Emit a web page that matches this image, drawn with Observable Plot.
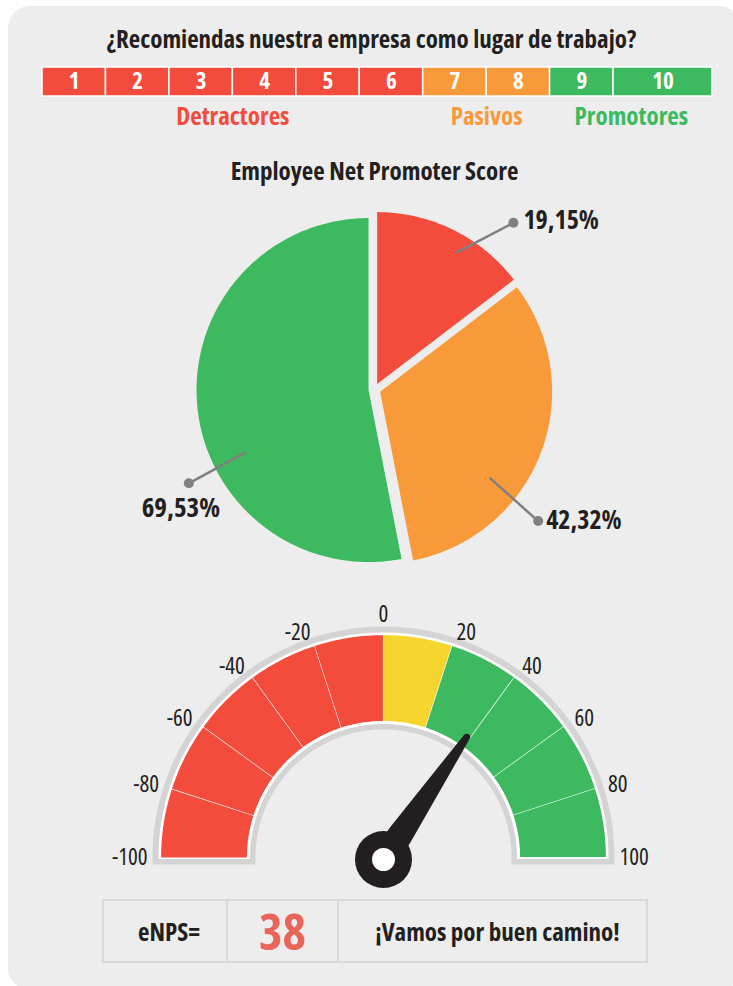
<!DOCTYPE html>
<html><head><meta charset="utf-8">
<script src="https://cdn.jsdelivr.net/npm/d3@7"></script>
<script src="https://cdn.jsdelivr.net/npm/@observablehq/plot@0.6"></script>
<style>
html,body{margin:0;padding:0;background:#fff;}
body{width:733px;height:986px;overflow:hidden;position:relative;font-family:"Open Sans",sans-serif;font-stretch:75%;color:#231F20;}
#panel{position:absolute;left:8px;top:6px;width:733px;height:984px;background:#EDEDED;border-radius:22px;}
.abs{position:absolute;}
.htext{position:absolute;left:0;width:733px;text-align:center;font-weight:bold;line-height:32px;}
#box{position:absolute;left:102px;top:899px;width:542px;height:60px;border:2px solid #D9D9D9;display:flex;}
#box div{display:flex;align-items:center;justify-content:center;font-weight:bold;box-sizing:border-box;}
svg text{font-stretch:75%;}
</style></head><body>
<div id="panel"></div>
<div id="title" class="htext" style="top:22px;font-size:25px;left:5px;">¿Recomiendas nuestra empresa como lugar de trabajo?</div>
<div id="scale" class="abs" style="left:0;top:60px;"></div>
<div id="sub" class="htext" style="top:154px;font-size:25px;left:8px;">Employee Net Promoter Score</div>
<div id="pie" class="abs" style="left:0;top:190px;"></div>
<div id="gauge" class="abs" style="left:0;top:590px;"></div>
<div id="box">
  <div id="c1" style="width:124px;border-right:2px solid #D9D9D9;font-size:25px;padding-left:8px;"></div>
  <div id="c2" style="width:111px;border-right:2px solid #D9D9D9;font-size:50px;color:#E9655A;"></div>
  <div id="c3" style="flex:1;font-size:25px;padding-left:10px;"></div>
</div>
<script>
// ---------- data ----------
const scores = [1, 2, 3, 4, 5, 6, 7, 8, 9, 10];
const scoreGroup = ["Detractores","Detractores","Detractores","Detractores","Detractores","Detractores","Pasivos","Pasivos","Promotores","Promotores"];
const groups = ["Detractores", "Pasivos", "Promotores"];
const groupColors = ["#F44C3C", "#F99A3A", "#3DBA5F"];
const pieValues = [19.15, 42.32, 69.53];
const pieLabels = ["19,15%", "42,32%", "69,53%"];
const gaugeTicks = [-100, -80, -60, -40, -20, 0, 20, 40, 60, 80, 100];
const gaugeBandColors = ["#F44C3C","#F44C3C","#F44C3C","#F44C3C","#F44C3C","#F6D52E","#3DBA5F","#3DBA5F","#3DBA5F","#3DBA5F"];
const enpsLabel = "eNPS=";
const enps = 38;
const enpsMessage = "¡Vamos por buen camino!";

const FONT = '"Open Sans",sans-serif';
const INK = "#231F20";
const plotStyle = {fontFamily: FONT, fontStretch: "75%", background: "transparent", overflow: "visible"};

// ---------- scale bar ----------
const weight = s => s === 10 ? 1.56 : 1;
let acc = 0;
const cells = scores.map((s, i) => { const x1 = acc; acc += weight(s); return {score: s, group: scoreGroup[i], x1, x2: acc}; });
const total = acc;
const spans = groups.map(g => { const c = cells.filter(d => d.group === g); return {group: g, x: (c[0].x1 + c[c.length - 1].x2) / 2}; });

document.getElementById("scale").append(Plot.plot({
  width: 733, height: 72, margin: 0,
  style: plotStyle,
  x: {domain: [0, total], range: [42, 712], axis: null},
  y: {domain: [0, 1], range: [7, 36], axis: null},
  color: {domain: groups, range: groupColors},
  marks: [
    Plot.rect(cells, {x1: "x1", x2: "x2", y1: 0, y2: 1, fill: "group", stroke: "#fff", strokeWidth: 1.5}),
    Plot.text(cells, {x: d => (d.x1 + d.x2) / 2, y: 0.5, text: d => String(d.score), fill: "#fff", fontSize: 23, fontWeight: "bold"}),
    Plot.text(spans, {x: "x", y: 1.69, text: "group", fill: "group", fontSize: 25, fontWeight: "bold"})
  ]
}));

// ---------- pie ----------
const rad = Math.PI / 180;
const pieArcs = d3.pie().sort(null).value(d => d)(pieValues);
const R = 172, explode = 6;
const slicePts = [];
pieArcs.forEach((a, i) => {
  const mid = (a.startAngle + a.endAngle) / 2;
  const ox = explode * Math.sin(mid), oy = -explode * Math.cos(mid);
  slicePts.push({k: i, x: ox, y: oy});
  const n = Math.ceil((a.endAngle - a.startAngle) / rad);
  for (let j = 0; j <= n; j++) {
    const t = a.startAngle + (a.endAngle - a.startAngle) * j / n;
    slicePts.push({k: i, x: ox + R * Math.sin(t), y: oy - R * Math.cos(t)});
  }
});
const labelLayout = [
  {inA: 31, inR: 160, dotA: 39.8, dotR: 217, tdx: 10, tdy: -2, anchor: "start"},
  {inA: 127.5, inR: 146, dotA: 128.8, dotR: 210, tdx: 8, tdy: 0, anchor: "start"},
  {inA: 244, inR: 144, dotA: 243.2, dotR: 208, tdx: -8, tdy: 25, anchor: "middle"}
];
const pol = (a, r) => ({x: r * Math.sin(a * rad), y: -r * Math.cos(a * rad)});
const leaders = [];
const dots = [], labels = [];
labelLayout.forEach((L, i) => {
  const p = pol(L.inA, L.inR), q = pol(L.dotA, L.dotR);
  leaders.push({k: i, x: p.x, y: p.y}, {k: i, x: q.x, y: q.y});
  dots.push({x: q.x, y: q.y});
  labels.push({x: q.x + L.tdx, y: q.y + L.tdy, text: pieLabels[i], anchor: L.anchor});
});
document.getElementById("pie").append(Plot.plot({
  width: 733, height: 400, margin: 0,
  style: plotStyle,
  x: {domain: [-374, 359], range: [0, 733], axis: null},
  y: {domain: [-199, 201], range: [0, 400], axis: null},
  marks: [
    Plot.line(slicePts, {x: "x", y: "y", z: "k", fill: d => groupColors[d.k], stroke: "none"}),
    Plot.line(leaders, {x: "x", y: "y", z: "k", stroke: "#808080", strokeWidth: 2.5}),
    Plot.dot(dots, {x: "x", y: "y", r: 5, fill: "#808080"}),
    Plot.text(labels.filter(d => d.anchor === "start"), {x: "x", y: "y", text: "text", textAnchor: "start", fontSize: 26, fontWeight: "bold", fill: INK}),
    Plot.text(labels.filter(d => d.anchor === "middle"), {x: "x", y: "y", text: "text", textAnchor: "middle", fontSize: 27, fontWeight: "bold", fill: INK})
  ]
}));

// ---------- gauge ----------
const ang = d3.scaleLinear().domain([-100, 100]).range([-90, 90]);
function band(r0, r1, a0, a1, k, ext) {
  const pts = [];
  if (ext) pts.push({k, ...pol(a0, r1), y: ext});
  const n = Math.max(2, Math.ceil(Math.abs(a1 - a0)));
  for (let j = 0; j <= n; j++) pts.push({k, ...pol(a0 + (a1 - a0) * j / n, r1)});
  if (ext) { pts.push({k, x: pol(a1, r1).x, y: ext}); pts.push({k, x: pol(a1, r0).x, y: ext}); }
  for (let j = n; j >= 0; j--) pts.push({k, ...pol(a0 + (a1 - a0) * j / n, r0)});
  if (ext) pts.push({k, x: pol(a0, r0).x, y: ext});
  return pts;
}
const grayRing = band(128, 231, -90, 90, "g", 7);
const whiteRing = band(133.5, 225, -90, 90, "w", 1.5);
const segPts = [];
gaugeBandColors.forEach((c, i) => {
  band(136, 223, ang(gaugeTicks[i]), ang(gaugeTicks[i + 1]), i, 0).forEach(p => segPts.push({...p, c}));
});
// needle
const th = ang(enps) * rad;
const hub = {x: 0, y: 2};
const u = {x: Math.sin(th), y: -Math.cos(th)}, nv = {x: Math.cos(th), y: Math.sin(th)};
const profile = [[0, 14], [32, 12.5], [148, 3.5]];
const needle = [];
profile.forEach(([r, w]) => needle.push({x: hub.x + u.x * r + nv.x * w, y: hub.y + u.y * r + nv.y * w}));
for (let j = 1; j < 8; j++) {
  const t = Math.PI * j / 8, r = 148, w = 3.5;
  needle.push({x: hub.x + u.x * (r + w * Math.sin(t)) + nv.x * w * Math.cos(t), y: hub.y + u.y * (r + w * Math.sin(t)) + nv.y * w * Math.cos(t)});
}
profile.slice().reverse().forEach(([r, w]) => needle.push({x: hub.x + u.x * r - nv.x * w, y: hub.y + u.y * r - nv.y * w}));

const tickPos = gaugeTicks.map(v => ({v, ...pol(ang(v), v === 0 ? 243 : 236)}));
const tickText = (filter, anchor) => Plot.text(tickPos.filter(filter), {x: "x", y: "y", text: d => String(d.v), textAnchor: anchor, fontSize: 23, fill: INK});

document.getElementById("gauge").append(Plot.plot({
  width: 733, height: 300, margin: 0,
  style: plotStyle,
  x: {domain: [-383, 350], range: [0, 733], axis: null},
  y: {domain: [-267, 33], range: [0, 300], axis: null},
  marks: [
    Plot.line(grayRing, {x: "x", y: "y", fill: "#D4D4D4", stroke: "none"}),
    Plot.line(whiteRing, {x: "x", y: "y", fill: "#FFFFFF", stroke: "none"}),
    Plot.line(segPts, {x: "x", y: "y", z: "k", fill: "c", stroke: "#fff", strokeWidth: 1.2}),
    tickText(d => d.v < 0, "end"),
    tickText(d => d.v === 0, "middle"),
    tickText(d => d.v > 0, "start"),
    Plot.line(needle, {x: "x", y: "y", fill: INK, stroke: "none"}),
    Plot.dot([hub], {x: "x", y: "y", r: 28.5, fill: INK}),
    Plot.dot([hub], {x: "x", y: "y", r: 11.5, fill: "#fff"})
  ]
}));

// ---------- box ----------
document.getElementById("c1").textContent = enpsLabel;
document.getElementById("c2").textContent = String(enps);
document.getElementById("c3").textContent = enpsMessage;
</script>
</body></html>
